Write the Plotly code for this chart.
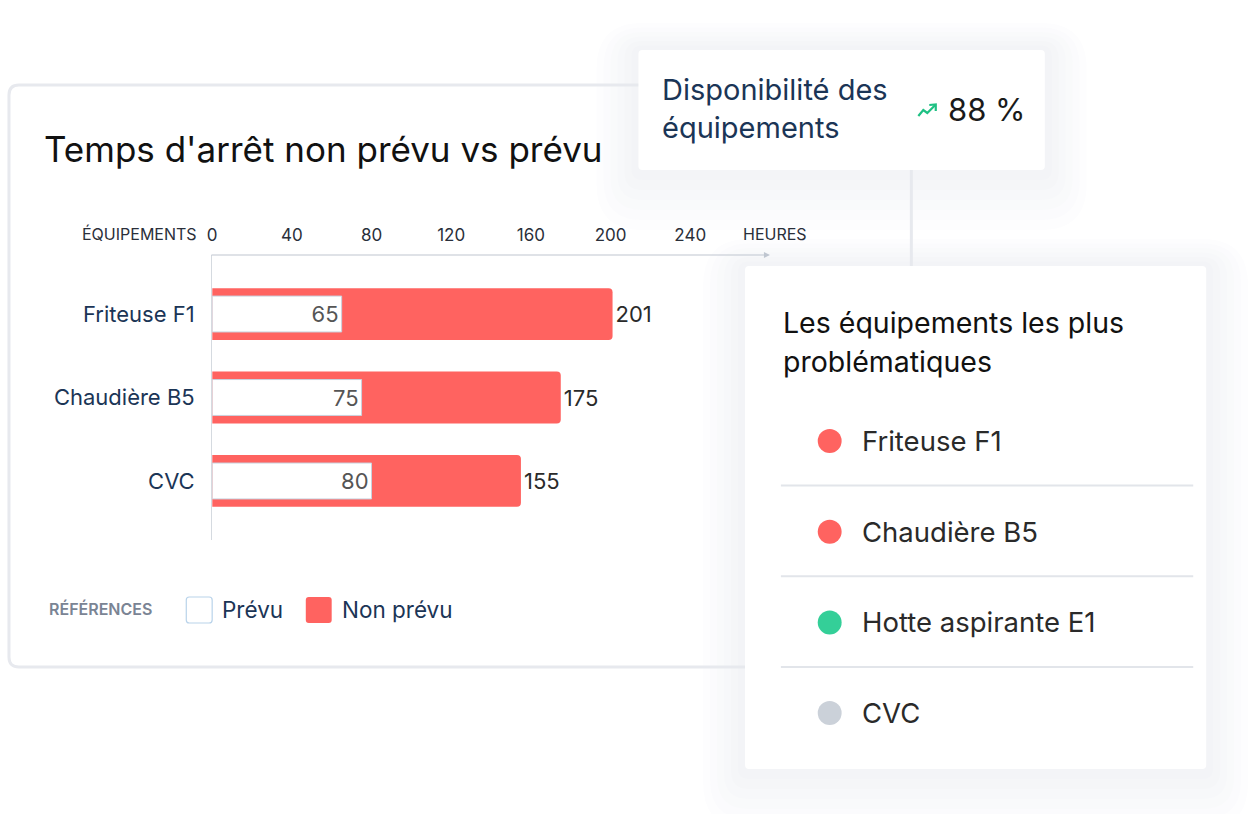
import plotly.graph_objects as go

W, H = 1250, 814

# données
equipements = ["Friteuse F1", "Chaudière B5", "CVC"]
prevu = [65, 75, 80]
non_prevu = [201, 175, 155]
graduations = [0, 40, 80, 120, 160, 200, 240]

disponibilite = 88

problematiques = ["Friteuse F1", "Chaudière B5", "Hotte aspirante E1", "CVC"]
statut = ["critique", "critique", "ok", "inactif"]
couleur_statut = {"critique": "#FF6360", "ok": "#34CF98", "inactif": "#CBD1D9"}

ROUGE = "#FF6360"
NAVY = "#1B3556"
FONT = "Inter, Roboto, sans-serif"

# dégradé de l'ombre des cartes (de l'extérieur vers l'intérieur)
OMBRE = ["#FDFDFE", "#FBFBFD", "#F9FAFB", "#F7F8FA", "#F5F6F8", "#F3F4F7"]


def X(px):
    return px / W


def Y(py):
    return 1 - py / H


def rrect(x0, y0, x1, y1, r):
    # rectangle arrondi en pixels -> path en coordonnées paper
    pts = [
        ("M", [(x0 + r, y0)]),
        ("L", [(x1 - r, y0)]),
        ("Q", [(x1, y0), (x1, y0 + r)]),
        ("L", [(x1, y1 - r)]),
        ("Q", [(x1, y1), (x1 - r, y1)]),
        ("L", [(x0 + r, y1)]),
        ("Q", [(x0, y1), (x0, y1 - r)]),
        ("L", [(x0, y0 + r)]),
        ("Q", [(x0, y0), (x0 + r, y0)]),
    ]
    s = ""
    for cmd, p in pts:
        s += cmd + " " + " ".join(f"{X(a):.5f},{Y(b):.5f}" for a, b in p) + " "
    return s + "Z"


def polyline(points):
    return "M " + " L ".join(f"{X(a):.5f},{Y(b):.5f}" for a, b in points)


shapes = []
annotations = []


def ombre(x0, y0, x1, y1, r):
    n = len(OMBRE)
    for k, c in enumerate(OMBRE):
        i = n - k
        e = i * 7
        shapes.append(dict(type="path", xref="paper", yref="paper", layer="below",
                           path=rrect(x0 - e, y0 - e + i * 2.5, x1 + e, y1 + e + i * 3, r + e),
                           fillcolor=c, line=dict(width=0)))


def carte(x0, y0, x1, y1, r, fill="white", line=None):
    shapes.append(dict(type="path", xref="paper", yref="paper", layer="below",
                       path=rrect(x0, y0, x1, y1, r), fillcolor=fill,
                       line=dict(width=0) if line is None else line))


def texte(px, py, t, size, color, anchor="left", weight=None, family=FONT):
    f = dict(size=size, color=color, family=family)
    if weight:
        f["weight"] = weight
    annotations.append(dict(x=X(px), y=Y(py), xref="paper", yref="paper", text=t, showarrow=False,
                            xanchor=anchor, yanchor="middle", font=f))


CARTE_DISPO = (636, 50, 1044, 170, 4)
CARTE_LISTE = (743, 266, 1206, 769, 4)

# fonds : carte principale, ombres, contour de la carte principale, cartes flottantes
carte(4, 85, 910, 667, 10)
ombre(*CARTE_DISPO)
ombre(*CARTE_LISTE)
carte(4, 85, 910, 667, 10, fill="rgba(0,0,0,0)", line=dict(color="#E7E9EE", width=3))
carte(*CARTE_DISPO)
carte(*CARTE_LISTE)

# carte principale
texte(37, 149, "Temps d'arrêt non prévu vs prévu", 35, "#111111")
texte(195, 234, "ÉQUIPEMENTS", 16, "#2A2F3A", anchor="right")
texte(739, 234, "HEURES", 16, "#2A2F3A")

# axe des heures avec flèche
annotations.append(dict(x=X(768), y=Y(255), xref="paper", yref="paper", text="", showarrow=True,
                        ax=-560, ay=0, arrowhead=2, arrowsize=1, arrowwidth=1.2,
                        arrowcolor="#BFC6D0"))

# légende
texte(42, 609, "RÉFÉRENCES", 16, "#7A8494", weight=600)
shapes.append(dict(type="path", xref="paper", yref="paper", path=rrect(182, 597, 208, 623, 3),
                   fillcolor="white", line=dict(color="#B9D3EA", width=1.2)))
texte(216, 609, "Prévu", 22.5, NAVY)
shapes.append(dict(type="path", xref="paper", yref="paper", path=rrect(302, 597, 328, 623, 3),
                   fillcolor=ROUGE, line=dict(width=0)))
texte(336, 609, "Non prévu", 22.5, NAVY)

# carte disponibilité
texte(658, 89, "Disponibilité des", 29, NAVY)
texte(658, 128, "équipements", 29, NAVY)
shapes.append(dict(type="path", xref="paper", yref="paper", path=polyline([(917, 116), (922, 110), (926, 113), (934, 105)]),
                   line=dict(color="#1FC184", width=2.2)))
shapes.append(dict(type="path", xref="paper", yref="paper", path=polyline([(928, 105), (934.5, 104.5), (934.5, 111)]),
                   line=dict(color="#1FC184", width=2.2)))
texte(945, 110, f"{disponibilite} %", 31, "#1A1A1A")

# carte équipements problématiques
texte(779, 323, "Les équipements les plus", 28.5, "#111111")
texte(779, 362, "problématiques", 28.5, "#111111")
for i, (nom, st) in enumerate(zip(problematiques, statut)):
    yc = 441 + i * 90.7
    shapes.append(dict(type="circle", xref="paper", yref="paper", x0=X(816), x1=X(840), y0=Y(yc - 12), y1=Y(yc + 12),
                       fillcolor=couleur_statut[st], line=dict(width=0)))
    texte(858, yc, nom, 27.5, "#2A2A2A")
    if i < len(problematiques) - 1:
        ys = yc + 44.5
        shapes.append(dict(type="line", xref="paper", yref="paper", x0=X(779), x1=X(1193), y0=Y(ys), y1=Y(ys),
                           line=dict(color="#E2E5EA", width=2)))

fig = go.Figure()
fig.add_trace(go.Bar(
    y=equipements, x=non_prevu, orientation="h", name="Non prévu",
    marker=dict(color=ROUGE, line=dict(width=0), cornerradius=4), width=0.62,
    text=non_prevu, textposition="outside", constraintext="none",
    textfont=dict(size=22, color="#2A2A2A", family=FONT), cliponaxis=False,
))
fig.add_trace(go.Bar(
    y=equipements, x=prevu, orientation="h", name="Prévu",
    marker=dict(color="white", line=dict(color="#C9D2DE", width=1)), width=0.43,
    text=prevu, textposition="inside", insidetextanchor="end", constraintext="none",
    textfont=dict(size=22, color="#555555", family=FONT),
))

fig.update_layout(
    width=W, height=H, margin=dict(l=0, r=0, t=0, b=0),
    paper_bgcolor="white", plot_bgcolor="rgba(0,0,0,0)",
    barmode="overlay", showlegend=False,
    shapes=shapes, annotations=annotations,
    font=dict(family=FONT),
    xaxis=dict(domain=[X(208), X(768)], range=[0, 280], side="top", tickvals=graduations,
               showgrid=False, zeroline=False, showline=False, ticks="", ticklabelstandoff=10,
               tickfont=dict(size=17, color="#2A2F3A")),
    yaxis=dict(domain=[Y(540), Y(255)], range=[2.707, -0.707], showgrid=False, zeroline=False,
               showline=True, linecolor="#D5DAE0", linewidth=1.2, ticks="", ticklabelstandoff=12,
               tickfont=dict(size=22, color=NAVY)),
)

# pas de marge de page autour de la figure
fig.write_html("out.html", config={"displayModeBar": False},
               post_script="document.body.style.margin='0';")
